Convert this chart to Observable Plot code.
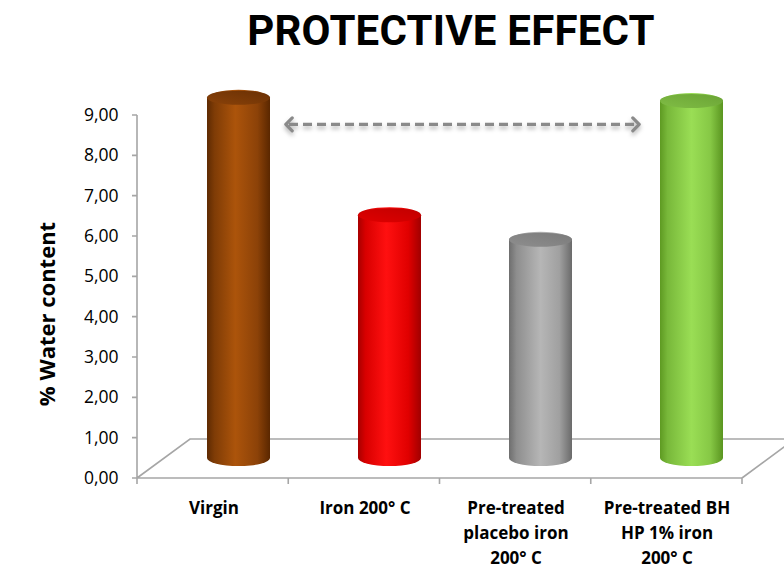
<!DOCTYPE html>
<html><head><meta charset="utf-8">
<script src="https://cdn.jsdelivr.net/npm/d3@7"></script>
<script src="https://cdn.jsdelivr.net/npm/@observablehq/plot@0.6"></script>
<style>
body{margin:0;background:#fff;width:784px;height:568px;overflow:hidden;}
#title{font-family:Roboto,"DejaVu Sans",sans-serif;font-weight:700;font-size:42px;height:62px;line-height:62px;padding-left:118px;text-align:center;color:#000;letter-spacing:0.2px;}
#chart svg{display:block;overflow:hidden;}
.arrowmark{filter:drop-shadow(0px 3px 2px rgba(0,0,0,0.28));}
</style></head><body>
<svg width="0" height="0" style="position:absolute">
<defs>
<linearGradient id="bodyBrown" x1="0" x2="1" y1="0" y2="0">
<stop offset="0" stop-color="#5e2a02"/><stop offset="0.12" stop-color="#7f3c06"/><stop offset="0.45" stop-color="#ac540b"/><stop offset="0.8" stop-color="#8c4208"/><stop offset="1" stop-color="#5a2700"/></linearGradient>
<linearGradient id="capBrown" x1="0" x2="1" y1="1" y2="0"><stop offset="0" stop-color="#8a4209"/><stop offset="1" stop-color="#6a3004"/></linearGradient>
<linearGradient id="bodyRed" x1="0" x2="1" y1="0" y2="0">
<stop offset="0" stop-color="#a80000"/><stop offset="0.12" stop-color="#d80000"/><stop offset="0.45" stop-color="#ff1010"/><stop offset="0.8" stop-color="#e00000"/><stop offset="1" stop-color="#a00000"/></linearGradient>
<linearGradient id="capRed" x1="0" x2="1" y1="1" y2="0"><stop offset="0" stop-color="#e00000"/><stop offset="1" stop-color="#c00000"/></linearGradient>
<linearGradient id="bodyGray" x1="0" x2="1" y1="0" y2="0">
<stop offset="0" stop-color="#6e6e6e"/><stop offset="0.12" stop-color="#8e8e8e"/><stop offset="0.5" stop-color="#b6b6b6"/><stop offset="0.8" stop-color="#a0a0a0"/><stop offset="1" stop-color="#6a6a6a"/></linearGradient>
<linearGradient id="capGray" x1="0" x2="1" y1="1" y2="0"><stop offset="0" stop-color="#8e8e8e"/><stop offset="1" stop-color="#7a7a7a"/></linearGradient>
<linearGradient id="bodyGreen" x1="0" x2="1" y1="0" y2="0">
<stop offset="0" stop-color="#5e9a22"/><stop offset="0.12" stop-color="#78b83a"/><stop offset="0.5" stop-color="#9ade55"/><stop offset="0.8" stop-color="#86c845"/><stop offset="1" stop-color="#5a9520"/></linearGradient>
<linearGradient id="capGreen" x1="0" x2="1" y1="1" y2="0"><stop offset="0" stop-color="#80bd45"/><stop offset="1" stop-color="#6aa335"/></linearGradient>
</defs></svg>
<div id="title">PROTECTIVE EFFECT</div>
<div id="chart"></div>
<script>
// ---- data ----
const categories = ["Virgin", "Iron 200° C", "Pre-treated\nplacebo iron\n200° C", "Pre-treated BH\nHP 1% iron\n200° C"];
const waterContent = [8.93, 6.02, 5.41, 8.85];
const yTicks = [0, 1, 2, 3, 4, 5, 6, 7, 8, 9];
const yLabel = "% Water content";
const arrowFrom = ["Virgin"];
const arrowTo = ["Pre-treated BH\nHP 1% iron\n200° C"];
const arrowLevel = [8.78];

// ---- styles ----
const bodyFills = ["url(#bodyBrown)", "url(#bodyRed)", "url(#bodyGray)", "url(#bodyGreen)"];
const capFills = ["url(#capBrown)", "url(#capRed)", "url(#capGray)", "url(#capGreen)"];
const DEPTH_X = 53, DEPTH_Y = -39;         // 3D floor depth offset
const MID_X = 25, MID_Y = -20;             // bars sit at mid depth
const BAR_INSET = 44, CAP_RY = 8;
const GRID = "#a6a6a6";

const rows = categories.map((c, i) => ({cat: c, value: waterContent[i], body: bodyFills[i], cap: capFills[i]}));
const arrows = arrowFrom.map((f, i) => ({from: f, to: arrowTo[i], y: arrowLevel[i]}));

const fmt = d => d.toFixed(2).replace(".", ",");

const floor = Plot.ruleY([0], {
  render(index, scales, values, dims) {
    const x0 = dims.marginLeft, x1 = dims.width - dims.marginRight;
    const y0 = scales.y(0), yTop = scales.y(d3.max(yTicks));
    const n = categories.length, step = (x1 - x0) / n;
    let d = `M${x0},${yTop}V${y0}H${x1}`;
    d += `M${x0},${y0}L${x0 + DEPTH_X},${y0 + DEPTH_Y}H${x1 + DEPTH_X}`;
    d += `M${x1},${y0}L${x1 + DEPTH_X},${y0 + DEPTH_Y}`;
    for (let i = 0; i <= n; ++i) d += `M${x0 + i * step},${y0}v6`;
    for (const t of yTicks) d += `M${x0 - 5},${scales.y(t)}h5`;
    const g = d3.create("svg:g");
    g.append("path").attr("d", d).attr("fill", "none").attr("stroke", GRID).attr("stroke-width", 1.6);
    return g.node();
  }
});

const chart = Plot.plot({
  width: 784,
  height: 506,
  marginTop: 53,
  marginBottom: 90,
  marginLeft: 137,
  marginRight: 42,
  x: {domain: categories, padding: 0, label: null},
  y: {domain: [0, 9], label: null},
  color: {type: "identity"},
  style: {fontFamily: "'Open Sans', sans-serif", background: "#fff"},
  marks: [
    floor,
    Plot.axisY(yTicks, {tickSize: 0, tickPadding: 19, tickFormat: fmt, fontSize: 17.5, fill: "#000", label: null}),
    Plot.axisX({tickSize: 0, tickPadding: 18, fontSize: 17, fontWeight: "bold", lineHeight: 1.46, fill: "#000", label: null}),
    Plot.text([yLabel], {frameAnchor: "left", textAnchor: "middle", rotate: -90, dx: -90, dy: 17, fontSize: 22, fontWeight: "bold", fill: "#000"}),
    Plot.barY(rows, {x: "cat", y: "value", fill: "body", insetLeft: BAR_INSET, insetRight: BAR_INSET, insetTop: -CAP_RY, insetBottom: -CAP_RY, rx: (151.25 - 2 * BAR_INSET) / 2, ry: CAP_RY, dx: MID_X, dy: MID_Y}),
    Plot.barY(rows, {x: "cat", y1: "value", y2: "value", fill: "cap", insetLeft: BAR_INSET, insetRight: BAR_INSET, insetTop: -CAP_RY + 1, insetBottom: -CAP_RY + 1, rx: (151.25 - 2 * BAR_INSET) / 2, ry: CAP_RY - 1, dx: MID_X, dy: MID_Y}),
    Plot.link(arrows, {
      x1: "from", x2: "to", y1: "y", y2: "y",
      stroke: "#8a8a8a", strokeWidth: 3.2, strokeDasharray: "9,5",
      markerStart: "arrow-reverse", markerEnd: "arrow", className: "arrowmark",
      render(index, scales, values, dims, context, next) {
        const x1 = Array.from(values.x1, v => v + 75);
        const x2 = Array.from(values.x2, v => v - 31);
        return next(index, scales, {...values, x1, x2}, dims, context);
      }
    })
  ]
});
document.getElementById("chart").appendChild(chart);
</script>
</body></html>
